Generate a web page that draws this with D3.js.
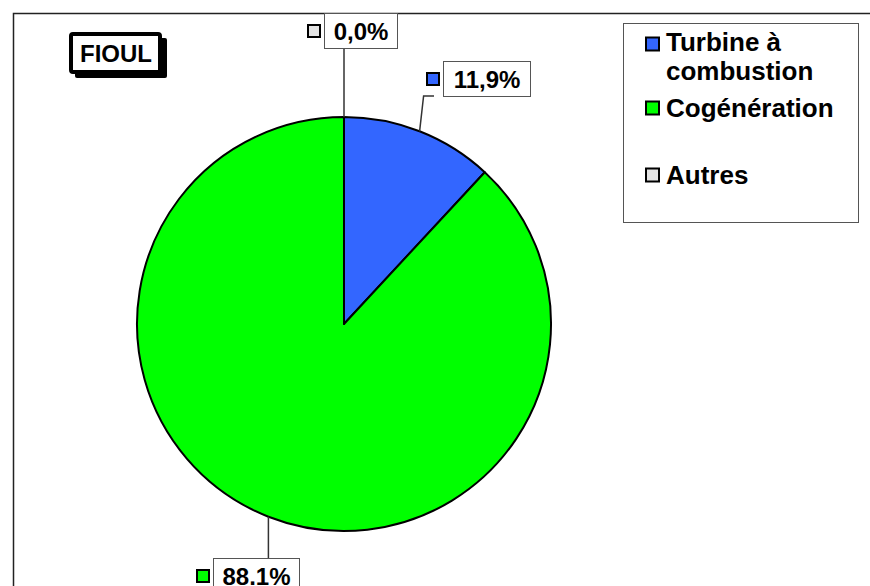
<!DOCTYPE html>
<html>
<head>
<meta charset="utf-8">
<script src="https://cdnjs.cloudflare.com/ajax/libs/d3/7.8.5/d3.min.js"></script>
<style>
  body { margin: 0; background: #fff; }
  text { font-family: "Liberation Sans", Arial, sans-serif; font-weight: bold; }
</style>
</head>
<body>
<div id="chart"></div>
<script>
// data
var categories = ["Turbine à combustion", "Cogénération", "Autres"];
var legend_lines = [["Turbine à", "combustion"], ["Cogénération"], ["Autres"]];
var values = [11.9, 88.1, 0.0];
var value_labels = ["11,9%", "88.1%", "0,0%"];
var colors = ["#3366FF", "#00FF00", "#E3E3E3"];
var title = "FIOUL";

var width = 870, height = 586;
var cx = 344, cy = 324, radius = 207;

var svg = d3.select("#chart").append("svg")
    .attr("width", width)
    .attr("height", height);

// outer frame (runs off the page right and bottom)
svg.append("rect")
    .attr("x", 13.5).attr("y", 13.5)
    .attr("width", 900).attr("height", 700)
    .attr("fill", "none")
    .attr("stroke", "#222")
    .attr("stroke-width", 1.5);

var pie = d3.pie().sort(null).value(d => d);
var arcs = pie(values);
var arc = d3.arc().innerRadius(0).outerRadius(radius);

var g = svg.append("g").attr("transform", `translate(${cx},${cy})`);
g.selectAll("path").data(arcs)
    .enter().append("path")
    .attr("d", arc)
    .attr("fill", (d, i) => colors[i])
    .attr("stroke", "#000")
    .attr("stroke-width", 2)
    .attr("stroke-linejoin", "round");

// label boxes: left/top of each box, by slice
var box_pos = [[443, 61], [213, 558], [324, 13]];
var box_w = [87, 86, 73], box_h = 35;

function edge_point(d){
    let a = (d.startAngle + d.endAngle) / 2;
    return [cx + radius * Math.sin(a), cy - radius * Math.cos(a)];
}

arcs.forEach((d, i) => {
    let p = edge_point(d);
    let bx = box_pos[i][0], by = box_pos[i][1];
    let pts;
    if(i === 0){
        pts = [p, [p[0] + 4, by + box_h], [bx - 9, by + box_h]];
    } else if(i === 1){
        pts = [p, [p[0], by]];
    } else {
        pts = [p, [p[0], by + box_h]];
    }
    svg.append("path")
        .attr("d", d3.line()(pts))
        .attr("fill", "none")
        .attr("stroke", "#333")
        .attr("stroke-width", 1.5);

    svg.append("rect")
        .attr("x", bx + 0.5).attr("y", by + 0.5)
        .attr("width", box_w[i]).attr("height", box_h)
        .attr("fill", "#fff")
        .attr("stroke", "#555")
        .attr("stroke-width", 1);
    svg.append("rect")
        .attr("x", bx - 16).attr("y", by + 12)
        .attr("width", 12).attr("height", 12)
        .attr("fill", colors[i])
        .attr("stroke", "#000")
        .attr("stroke-width", 2);
    svg.append("text")
        .attr("x", bx + box_w[i] / 2 + 0.5)
        .attr("y", by + box_h / 2 + 9)
        .attr("text-anchor", "middle")
        .attr("font-size", 24)
        .attr("fill", "#000")
        .text(value_labels[i]);
});

// title box with shadow
svg.append("rect")
    .attr("x", 75).attr("y", 38)
    .attr("width", 92).attr("height", 40)
    .attr("rx", 2)
    .attr("fill", "#000");
svg.append("rect")
    .attr("x", 71).attr("y", 34)
    .attr("width", 89).attr("height", 38)
    .attr("rx", 2)
    .attr("fill", "#fff")
    .attr("stroke", "#000")
    .attr("stroke-width", 4);
svg.append("text")
    .attr("x", 116).attr("y", 62)
    .attr("text-anchor", "middle")
    .attr("font-size", 24)
    .attr("fill", "#000")
    .text(title);

// legend
var legend = svg.append("g");
legend.append("rect")
    .attr("x", 623.5).attr("y", 23.5)
    .attr("width", 235).attr("height", 199)
    .attr("fill", "#fff")
    .attr("stroke", "#555")
    .attr("stroke-width", 1);

var marker_y = [44, 108, 175];
var text_y = [51, 117, 184];
categories.forEach((c, i) => {
    legend.append("rect")
        .attr("x", 646).attr("y", marker_y[i] - 6.5)
        .attr("width", 13).attr("height", 13)
        .attr("fill", colors[i])
        .attr("stroke", "#000")
        .attr("stroke-width", 2);
    legend_lines[i].forEach((t, j) => {
        legend.append("text")
            .attr("x", 666)
            .attr("y", text_y[i] + j * 29)
            .attr("font-size", 26)
            .attr("fill", "#000")
            .text(t);
    });
});
</script>
</body>
</html>
